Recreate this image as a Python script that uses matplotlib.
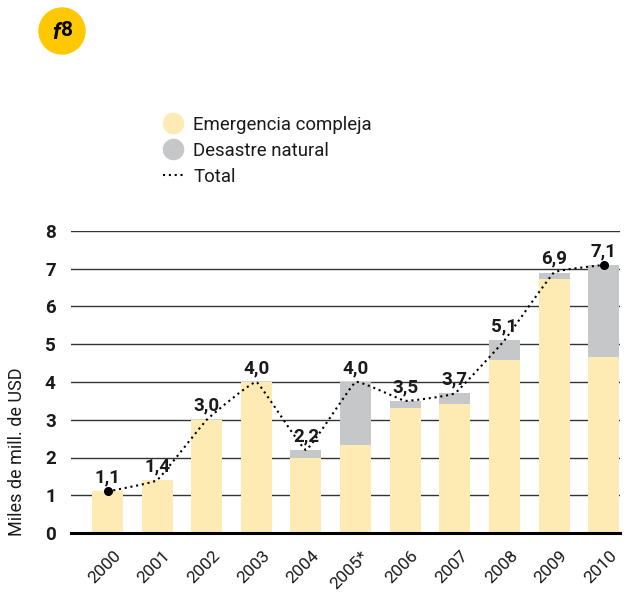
#!/usr/bin/env python3
import matplotlib

matplotlib.use("Agg")

import matplotlib.pyplot as plt
from matplotlib.lines import Line2D
from matplotlib.patches import Circle, PathPatch
from matplotlib.path import Path
from matplotlib.transforms import ScaledTranslation

years = ["2000", "2001", "2002", "2003", "2004", "2005*", "2006", "2007", "2008", "2009", "2010"]
emergencia = [1.1, 1.4, 3.0, 4.0, 2.0, 2.33, 3.32, 3.42, 4.58, 6.73, 4.66]
desastre = [0.0, 0.0, 0.0, 0.0, 0.2, 1.67, 0.18, 0.28, 0.52, 0.17, 2.44]
total = [1.1, 1.4, 3.0, 4.0, 2.2, 4.0, 3.5, 3.7, 5.1, 6.9, 7.1]
total_labels = ["1,1", "1,4", "3,0", "4,0", "2,2", "4,0", "3,5", "3,7", "5,1", "6,9", "7,1"]
yticks = [0, 1, 2, 3, 4, 5, 6, 7, 8]

YELLOW = "#FDEBB3"
GREY = "#C6C7C9"
BADGE = "#FFC800"
INK = "#1A1A1A"
DOTS = (0, (1, 1.8))

W, H = 627, 594
plt.rcParams["font.family"] = ["Roboto", "DejaVu Sans"]


def rounded_path(xs, ys, k=0.04):
    """Bezier path through the points, with slightly rounded joints."""
    verts = [(xs[0], ys[0])]
    codes = [Path.MOVETO]
    n = len(xs)
    for i in range(n - 1):
        p0 = max(i - 1, 0)
        p3 = min(i + 2, n - 1)
        verts.append((xs[i] + k * (xs[i + 1] - xs[p0]), ys[i] + k * (ys[i + 1] - ys[p0])))
        verts.append((xs[i + 1] - k * (xs[p3] - xs[i]), ys[i + 1] - k * (ys[p3] - ys[i])))
        verts.append((xs[i + 1], ys[i + 1]))
        codes += [Path.CURVE4, Path.CURVE4, Path.CURVE4]
    return Path(verts, codes)


fig = plt.figure(figsize=(W / 100, H / 100), dpi=100)
ax = fig.add_axes([71 / W, 1 - 533 / H, (620 - 71) / W, (533 - 231) / H])

x = list(range(len(years)))
ax.bar(x, emergencia, width=0.625, color=YELLOW, zorder=2)
ax.bar(x, desastre, width=0.625, bottom=emergencia, color=GREY, zorder=2)
ax.add_patch(PathPatch(rounded_path(x, total), fill=False, edgecolor="black", lw=1.5,
                       linestyle=DOTS, zorder=3))
ax.plot([x[0], x[-1]], [total[0], total[-1]], "o", color="black", ms=5.5, zorder=4)

for xi, val, lab in zip(x, total, total_labels):
    ax.annotate(lab, (xi, val), xytext=(0, 3.5), textcoords="offset points", ha="center",
                va="bottom", fontsize=13.5, fontweight="bold", color=INK, zorder=5)

ax.set_xlim(-0.736, 10.33)
ax.set_ylim(0, 8)
ax.set_yticks(yticks)
ax.set_xticks(x)
ax.set_xticklabels(years, rotation=45, ha="right", rotation_mode="anchor", fontsize=12.5, color=INK)
ax.tick_params(axis="both", length=0)
ax.tick_params(axis="x", pad=11)
ax.tick_params(axis="y", pad=11)
shift = ScaledTranslation(4 / 72, 0, fig.dpi_scale_trans)
for lab in ax.get_xticklabels():
    lab.set_transform(lab.get_transform() + shift)
for lab in ax.get_yticklabels():
    lab.set_fontsize(13.5)
    lab.set_fontweight("bold")
    lab.set_color(INK)
ax.yaxis.grid(True, color="#333333", lw=1.0, zorder=1)
ax.set_axisbelow(True)
for side in ["top", "right", "left", "bottom"]:
    ax.spines[side].set_visible(False)
ax.axhline(0, color="black", lw=2.2, zorder=6, clip_on=False)
fig.text(17 / W, 1 - 452 / H, "Miles de mill. de USD", rotation=90, ha="center", va="center",
         fontsize=13, color=INK)

handles = [
    Line2D([], [], linestyle="none", marker="o", ms=14.5, color=YELLOW),
    Line2D([], [], linestyle="none", marker="o", ms=14.5, color=GREY),
    Line2D([], [], color="black", lw=1.5, linestyle=DOTS),
]
fig.legend(handles, ["Emergencia compleja", "Desastre natural", "Total"],
           loc="upper left", bbox_to_anchor=(157 / W, 1 - 110 / H), frameon=False,
           fontsize=13.4, labelcolor=INK, handlelength=1.1, handletextpad=0.55,
           labelspacing=0.44, borderpad=0.3, borderaxespad=0)

fig.add_artist(Circle((62, H - 31), 23, transform=None, color=BADGE))
fig.text(56 / W, 1 - 33 / H, "f", ha="center", va="center", fontsize=16, fontweight="bold",
         style="italic", color="black")
fig.text(67.5 / W, 1 - 30 / H, "8", ha="center", va="center", fontsize=15, fontweight="bold",
         color="black")

fig.savefig("out.png", dpi=100)
